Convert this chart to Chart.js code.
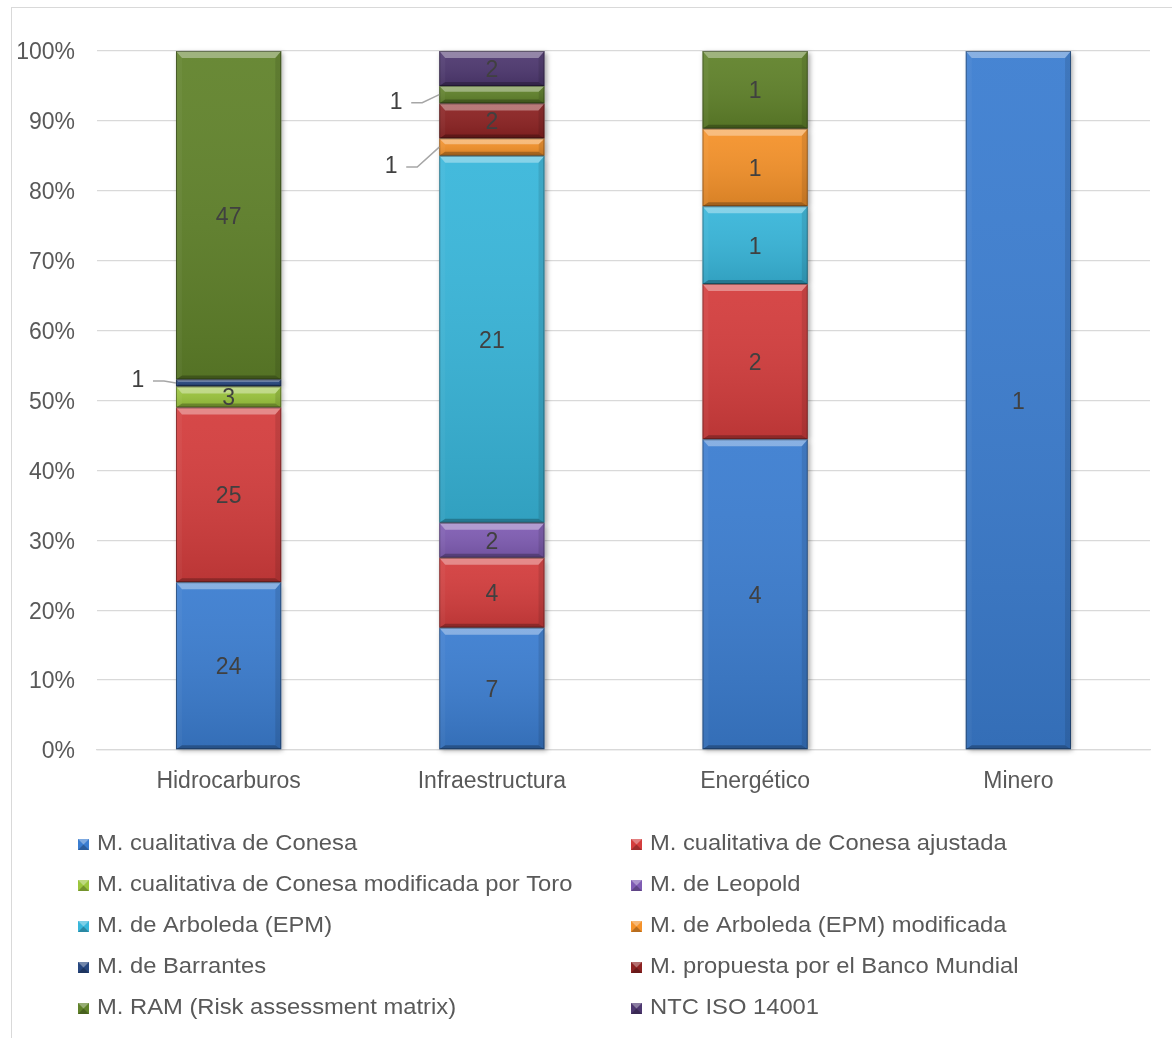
<!DOCTYPE html>
<html>
<head>
<meta charset="utf-8">
<title>Metodologías por sector</title>
<script src="https://cdn.jsdelivr.net/npm/chart.js@4.4.0/dist/chart.umd.min.js"></script>
<style>
  html, body { margin: 0; padding: 0; background: #fff; overflow: hidden; }
  #frame { position: absolute; left: 11px; top: 7px; width: 1200px; height: 1100px; border: 1px solid #d9d9d9; }
  #frame canvas { position: absolute; left: 0; top: 0; }
</style>
</head>
<body>
<div id="frame"><canvas id="methods" width="1160" height="1031"></canvas></div>
<script>
// sectors on the x axis
const sectors = ['Hidrocarburos', 'Infraestructura', 'Energético', 'Minero'];

// number of studies per method and sector
const conesa = [24, 7, 4, 1];
const conesaAjustada = [25, 4, 2, 0];
const conesaToro = [3, 0, 0, 0];
const leopold = [0, 2, 0, 0];
const arboleda = [0, 21, 1, 0];
const arboledaMod = [0, 1, 1, 0];
const barrantes = [1, 0, 0, 0];
const bancoMundial = [0, 2, 0, 0];
const ram = [47, 1, 1, 0];
const iso14001 = [0, 2, 0, 0];

const methodNames = [
  'M. cualitativa de Conesa',
  'M. cualitativa de Conesa ajustada',
  'M. cualitativa de Conesa modificada por Toro',
  'M. de Leopold',
  'M. de Arboleda (EPM)',
  'M. de Arboleda (EPM) modificada',
  'M. de Barrantes',
  'M. propuesta por el Banco Mundial',
  'M. RAM (Risk assessment matrix)',
  'NTC ISO 14001'
];
const methodCounts = [conesa, conesaAjustada, conesaToro, leopold, arboleda,
  arboledaMod, barrantes, bancoMundial, ram, iso14001];
const methodColors = ['#3b7dd0', '#d43d3d', '#9bc53d', '#7f5cb3', '#38b6da',
  '#f5922a', '#27477f', '#8c2222', '#60822a', '#4e3870'];

const percentTicks = [0, 10, 20, 30, 40, 50, 60, 70, 80, 90, 100];

const totals = sectors.map((s, i) => methodCounts.reduce((sum, arr) => sum + arr[i], 0));

const datasets = methodNames.map((name, k) => ({
  label: name,
  counts: methodCounts[k],
  data: methodCounts[k].map((v, i) => v / totals[i] * 100),
  backgroundColor: methodColors[k],
  borderWidth: 0
}));

const FONT = '"Liberation Sans", Arial, sans-serif';

// small segments get their label pulled out to the left with a leader line
// key: datasetIndex:dataIndex, dx from bar left edge, dy from segment centre
const callouts = {
  '6:0': { dx: -38, dy: -2 },
  '8:1': { dx: -43, dy: 8 },
  '5:1': { dx: -48, dy: 20 }
};

function barBox(el) {
  const p = el.getProps(['x', 'y', 'base', 'width'], true);
  return {
    left: p.x - p.width / 2, right: p.x + p.width / 2,
    top: Math.min(p.y, p.base), bottom: Math.max(p.y, p.base), x: p.x
  };
}

const bevelShadow = {
  id: 'bevelShadow',
  beforeDatasetsDraw(chart) {
    const ctx = chart.ctx;
    ctx.save();
    ctx.shadowColor = 'rgba(0,0,0,0.35)';
    ctx.shadowBlur = 5;
    ctx.shadowOffsetX = 2;
    ctx.shadowOffsetY = 2;
    ctx.fillStyle = '#fff';
    chart.data.datasets.forEach((ds, di) => {
      chart.getDatasetMeta(di).data.forEach((el, i) => {
        if (!ds.counts[i]) return;
        const b = barBox(el);
        ctx.fillRect(b.left, b.top, b.right - b.left, b.bottom - b.top);
      });
    });
    ctx.restore();
  },
  afterDatasetsDraw(chart) {
    const ctx = chart.ctx;
    ctx.save();
    chart.data.datasets.forEach((ds, di) => {
      chart.getDatasetMeta(di).data.forEach((el, i) => {
        if (!ds.counts[i]) return;
        const b = barBox(el);
        const w = b.right - b.left, h = b.bottom - b.top;
        const g = ctx.createLinearGradient(0, b.top, 0, b.bottom);
        g.addColorStop(0, 'rgba(255,255,255,0.06)');
        g.addColorStop(1, 'rgba(0,0,0,0.12)');
        ctx.fillStyle = g;
        ctx.fillRect(b.left, b.top, w, h);

        const bt = Math.min(7, h / 3), bs = Math.min(6, h / 3), bb = Math.min(4, h / 4);
        // top bevel
        ctx.fillStyle = 'rgba(255,255,255,0.36)';
        ctx.beginPath();
        ctx.moveTo(b.left, b.top); ctx.lineTo(b.right, b.top);
        ctx.lineTo(b.right - bs, b.top + bt); ctx.lineTo(b.left + bs, b.top + bt);
        ctx.closePath(); ctx.fill();
        // bottom bevel
        ctx.fillStyle = 'rgba(0,0,0,0.25)';
        ctx.beginPath();
        ctx.moveTo(b.left, b.bottom); ctx.lineTo(b.right, b.bottom);
        ctx.lineTo(b.right - bs, b.bottom - bb); ctx.lineTo(b.left + bs, b.bottom - bb);
        ctx.closePath(); ctx.fill();
        // right side
        ctx.fillStyle = 'rgba(0,0,0,0.10)';
        ctx.beginPath();
        ctx.moveTo(b.right, b.top); ctx.lineTo(b.right - bs, b.top + bt);
        ctx.lineTo(b.right - bs, b.bottom - bb); ctx.lineTo(b.right, b.bottom);
        ctx.closePath(); ctx.fill();
        // left side
        ctx.fillStyle = 'rgba(255,255,255,0.04)';
        ctx.beginPath();
        ctx.moveTo(b.left, b.top); ctx.lineTo(b.left + bs, b.top + bt);
        ctx.lineTo(b.left + bs, b.bottom - bb); ctx.lineTo(b.left, b.bottom);
        ctx.closePath(); ctx.fill();
        // outline
        ctx.strokeStyle = 'rgba(0,0,0,0.35)';
        ctx.lineWidth = 1;
        ctx.strokeRect(b.left + 0.5, b.top + 0.5, w - 1, h - 1);
      });
    });
    ctx.restore();
  }
};

const valueLabels = {
  id: 'valueLabels',
  afterDatasetsDraw(chart) {
    const ctx = chart.ctx;
    ctx.save();
    ctx.font = '23px ' + FONT;
    ctx.fillStyle = '#404040';
    ctx.textAlign = 'center';
    ctx.textBaseline = 'middle';
    chart.data.datasets.forEach((ds, di) => {
      chart.getDatasetMeta(di).data.forEach((el, i) => {
        const v = ds.counts[i];
        if (!v) return;
        const b = barBox(el);
        const cy = (b.top + b.bottom) / 2;
        const c = callouts[di + ':' + i];
        if (c) {
          const tx = b.left + c.dx, ty = cy + c.dy;
          ctx.fillText(String(v), tx, ty);
          ctx.strokeStyle = '#a6a6a6';
          ctx.lineWidth = 1.5;
          ctx.beginPath();
          ctx.moveTo(tx + 15, ty);
          ctx.lineTo(tx + 26, ty);
          ctx.lineTo(b.left, cy);
          ctx.stroke();
        } else {
          ctx.fillText(String(v), b.x, cy + 2);
        }
      });
    });
    ctx.restore();
  }
};

// two-column legend under the axis
const gridLegend = {
  id: 'gridLegend',
  afterDraw(chart) {
    const ctx = chart.ctx;
    const area = chart.chartArea;
    ctx.save();
    ctx.font = '22px ' + FONT;
    ctx.textBaseline = 'middle';
    ctx.textAlign = 'left';
    chart.data.datasets.forEach((ds, k) => {
      const col = k % 2, row = Math.floor(k / 2);
      const tx = area.left + col * 553;
      const ty = area.bottom + 94 + row * 41;
      const s = 11, sx = tx - 19, sy = ty - 5;
      ctx.fillStyle = ds.backgroundColor;
      ctx.fillRect(sx, sy, s, s);
      ctx.fillStyle = 'rgba(255,255,255,0.35)';
      ctx.beginPath();
      ctx.moveTo(sx, sy); ctx.lineTo(sx + s, sy); ctx.lineTo(sx + s / 2, sy + s / 2);
      ctx.closePath(); ctx.fill();
      ctx.fillStyle = 'rgba(0,0,0,0.25)';
      ctx.beginPath();
      ctx.moveTo(sx, sy + s); ctx.lineTo(sx + s, sy + s); ctx.lineTo(sx + s / 2, sy + s / 2);
      ctx.closePath(); ctx.fill();
      // slightly wide lettering for the legend entries
      ctx.save();
      ctx.translate(tx, ty);
      ctx.scale(1.08, 1);
      ctx.fillStyle = '#595959';
      ctx.fillText(ds.label, 0, 0);
      ctx.restore();
    });
    ctx.restore();
  }
};

Chart.defaults.font.family = FONT;
Chart.defaults.color = '#595959';

new Chart(document.getElementById('methods'), {
  type: 'bar',
  data: { labels: sectors, datasets: datasets },
  options: {
    responsive: false,
    animation: false,
    layout: { padding: { top: 43, right: 22, left: 0, bottom: 239 } },
    datasets: { bar: { categoryPercentage: 0.4, barPercentage: 1 } },
    plugins: { legend: { display: false }, tooltip: { enabled: false } },
    scales: {
      x: {
        stacked: true,
        grid: { display: false },
        border: { color: '#d9d9d9', width: 1.3 },
        ticks: { font: { size: 23 }, padding: 10, color: '#595959' },
        afterFit(scale) { scale.height = 50; }
      },
      y: {
        stacked: true,
        min: 0,
        max: 100,
        afterBuildTicks(scale) { scale.ticks = percentTicks.map(v => ({ value: v })); },
        grid: { color: '#d9d9d9', lineWidth: 1.3, drawTicks: false },
        border: { display: false },
        ticks: { font: { size: 23 }, padding: 22, labelOffset: 2, color: '#595959', callback: v => v + '%' },
        afterFit(scale) { scale.width = 85; }
      }
    }
  },
  plugins: [bevelShadow, valueLabels, gridLegend]
});
</script>
</body>
</html>
